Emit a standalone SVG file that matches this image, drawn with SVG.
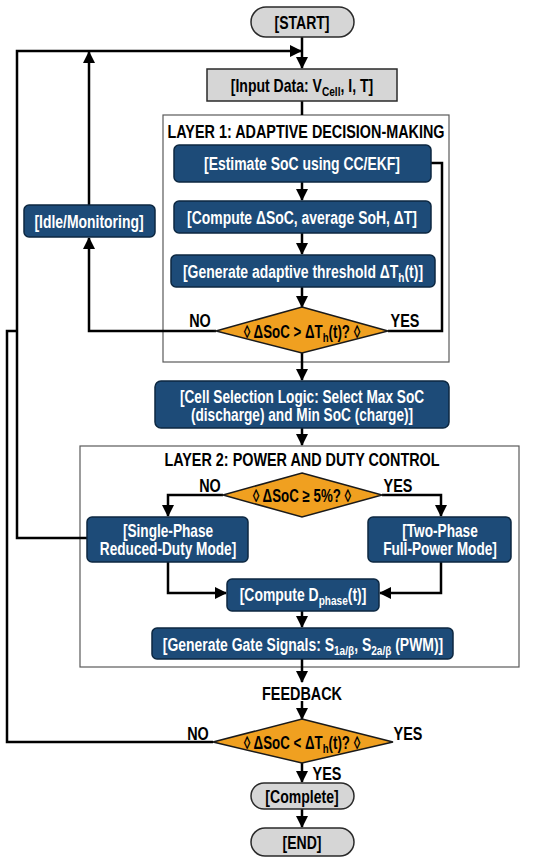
<svg xmlns="http://www.w3.org/2000/svg" width="550" height="862" viewBox="0 0 550 862">
<style>
.bg{fill:#ffffff}
.box{fill:#1d4b78;stroke:#0c2740;stroke-width:1.5}
.gray{fill:#d6d6d6;stroke:#2a2a2a;stroke-width:1.5}
.layer{fill:none;stroke:#5a5a5a;stroke-width:1.2}
.dia{fill:#f0a020;stroke:#1a1a1a;stroke-width:1.5}
.ln{fill:none;stroke:#000;stroke-width:2.5;stroke-linejoin:miter}
text{font-family:"Liberation Sans",Arial,sans-serif;font-weight:bold;font-size:18px;text-anchor:middle}
.w{fill:#ffffff}
.k{fill:#000000}
.two{font-size:17.5px}
.sub{font-size:13px}
</style>
<defs>
<marker id="ah" markerWidth="12" markerHeight="12" viewBox="0 0 12 12" refX="11" refY="6" orient="auto" markerUnits="userSpaceOnUse">
<path d="M0,0 L12,6 L0,12 Z" fill="#000"/>
</marker>
</defs>
<rect class="bg" x="0" y="0" width="550" height="862"/>

<g id="layer1">
<rect class="layer" x="163" y="115" width="286" height="247"/>
<text class="k" transform="translate(306,138) scale(0.8,1)">LAYER 1: ADAPTIVE DECISION-MAKING</text>
</g>
<g id="layer2">
<rect class="layer" x="80" y="446" width="439" height="221"/>
<text class="k" transform="translate(302,466) scale(0.8,1)">LAYER 2: POWER AND DUTY CONTROL</text>
</g>

<g id="connectors">
<line class="ln" x1="302" y1="37" x2="302" y2="68" marker-end="url(#ah)"/>
<line class="ln" x1="302" y1="101" x2="302" y2="115"/>
<line class="ln" x1="302" y1="182" x2="302" y2="200" marker-end="url(#ah)"/>
<line class="ln" x1="302" y1="233" x2="302" y2="254" marker-end="url(#ah)"/>
<line class="ln" x1="302" y1="287" x2="302" y2="307" marker-end="url(#ah)"/>
<polyline class="ln" points="431,163 442,163 442,331 388,331"/>
<polyline class="ln" points="216,331 89,331 89,238" marker-end="url(#ah)"/>
<line class="ln" x1="89" y1="205" x2="89" y2="52" marker-end="url(#ah)"/>
<polyline class="ln" points="87,538 17,538 17,51 301,51" marker-end="url(#ah)"/>
<line class="ln" x1="302" y1="353" x2="302" y2="380" marker-end="url(#ah)"/>
<line class="ln" x1="302" y1="428" x2="302" y2="445" marker-end="url(#ah)"/>
<polyline class="ln" points="223,495 168,495 168,516" marker-end="url(#ah)"/>
<polyline class="ln" points="382,495 441,495 441,516" marker-end="url(#ah)"/>
<polyline class="ln" points="168,562 168,593 226,593" marker-end="url(#ah)"/>
<polyline class="ln" points="441,562 441,593 380,593" marker-end="url(#ah)"/>
<line class="ln" x1="302" y1="611" x2="302" y2="627" marker-end="url(#ah)"/>
<line class="ln" x1="302" y1="659" x2="302" y2="682" marker-end="url(#ah)"/>
<line class="ln" x1="302" y1="701" x2="302" y2="719" marker-end="url(#ah)"/>
<polyline class="ln" points="213,742 7,742 7,331 17,331"/>
<line class="ln" x1="302" y1="763" x2="302" y2="782" marker-end="url(#ah)"/>
<line class="ln" x1="302" y1="809" x2="302" y2="827" marker-end="url(#ah)"/>
</g>

<g id="start">
<rect class="gray" x="251" y="7" width="103" height="30" rx="15"/>
<text class="k" transform="translate(302,28.5) scale(0.78,1)">[START]</text>
</g>
<g id="input">
<rect class="gray" x="207" y="69" width="190" height="32"/>
<text class="k" transform="translate(302,91.5) scale(0.78,1)">[Input Data: V<tspan class="sub" dy="4">Cell</tspan><tspan dy="-4">, I, T]</tspan></text>
</g>
<g id="estimate">
<rect class="box" x="174" y="145" width="257" height="37" rx="5"/>
<text class="w" transform="translate(302,169.5) scale(0.775,1)">[Estimate SoC using CC/EKF]</text>
</g>
<g id="compute-dsoc">
<rect class="box" x="174" y="201" width="257" height="32" rx="5"/>
<text class="w" transform="translate(302,223.5) scale(0.775,1)">[Compute ΔSoC, average SoH, ΔT]</text>
</g>
<g id="threshold">
<rect class="box" x="171" y="255" width="264" height="32" rx="5"/>
<text class="w" transform="translate(303,277.5) scale(0.775,1)">[Generate adaptive threshold ΔT<tspan class="sub" dy="4">h</tspan><tspan dy="-4">(t)]</tspan></text>
</g>
<g id="decision1">
<polygon class="dia" points="302,307 388,331 302,353 216,331"/>
<text class="k" transform="translate(302,337.5) scale(0.74,1)">◊ ΔSoC &gt; ΔT<tspan class="sub" dy="4">h</tspan><tspan dy="-4">(t)? ◊</tspan></text>
<text class="k" transform="translate(200,326.5) scale(0.8,1)">NO</text>
<text class="k" transform="translate(405,326.5) scale(0.8,1)">YES</text>
</g>
<g id="idle">
<rect class="box" x="24" y="205" width="131" height="32" rx="5"/>
<text class="w" transform="translate(89,227.5) scale(0.775,1)">[Idle/Monitoring]</text>
</g>
<g id="cell-selection">
<rect class="box" x="155" y="381" width="294" height="47" rx="6"/>
<text class="w two" transform="translate(302,403) scale(0.78,1)">[Cell Selection Logic: Select Max SoC</text>
<text class="w two" transform="translate(302,421) scale(0.78,1)">(discharge) and Min SoC (charge)]</text>
</g>
<g id="decision2">
<polygon class="dia" points="302,473 382,495 302,517 223,495"/>
<text class="k" transform="translate(302,501.5) scale(0.74,1)">◊ ΔSoC ≥ 5%? ◊</text>
<text class="k" transform="translate(210,491.5) scale(0.8,1)">NO</text>
<text class="k" transform="translate(398,491.5) scale(0.8,1)">YES</text>
</g>
<g id="single-phase">
<rect class="box" x="87" y="517" width="161" height="45" rx="5"/>
<text class="w two" transform="translate(168,536.5) scale(0.78,1)">[Single-Phase</text>
<text class="w two" transform="translate(168,555) scale(0.78,1)">Reduced-Duty Mode]</text>
</g>
<g id="two-phase">
<rect class="box" x="368" y="517" width="143" height="45" rx="5"/>
<text class="w two" transform="translate(440,536.5) scale(0.78,1)">[Two-Phase</text>
<text class="w two" transform="translate(440,555) scale(0.78,1)">Full-Power Mode]</text>
</g>
<g id="compute-d">
<rect class="box" x="227" y="579" width="152" height="32" rx="5"/>
<text class="w" transform="translate(303,600.5) scale(0.775,1)">[Compute D<tspan class="sub" dy="4">phase</tspan><tspan dy="-4">(t)]</tspan></text>
</g>
<g id="gate">
<rect class="box" x="152" y="628" width="301" height="31" rx="5"/>
<text class="w" transform="translate(303,650.5) scale(0.775,1)">[Generate Gate Signals: S<tspan class="sub" dy="4">1a/β</tspan><tspan dy="-4">, S</tspan><tspan class="sub" dy="4">2a/β</tspan><tspan dy="-4"> (PWM)]</tspan></text>
</g>
<g id="feedback">
<text class="k" transform="translate(302,699.5) scale(0.8,1)">FEEDBACK</text>
</g>
<g id="decision3">
<polygon class="dia" points="302,719 393,742 302,763 213,742"/>
<text class="k" transform="translate(302,748.5) scale(0.74,1)">◊ ΔSoC &lt; ΔT<tspan class="sub" dy="4">h</tspan><tspan dy="-4">(t)? ◊</tspan></text>
<text class="k" transform="translate(198,739.5) scale(0.8,1)">NO</text>
<text class="k" transform="translate(408,739.5) scale(0.8,1)">YES</text>
<text class="k" transform="translate(327,779.5) scale(0.8,1)">YES</text>
</g>
<g id="complete">
<rect class="gray" x="251" y="783" width="103" height="26" rx="13"/>
<text class="k" transform="translate(302,802.5) scale(0.78,1)">[Complete]</text>
</g>
<g id="end">
<rect class="gray" x="251" y="828" width="103" height="28" rx="14"/>
<text class="k" transform="translate(302,848.5) scale(0.78,1)">[END]</text>
</g>
</svg>
